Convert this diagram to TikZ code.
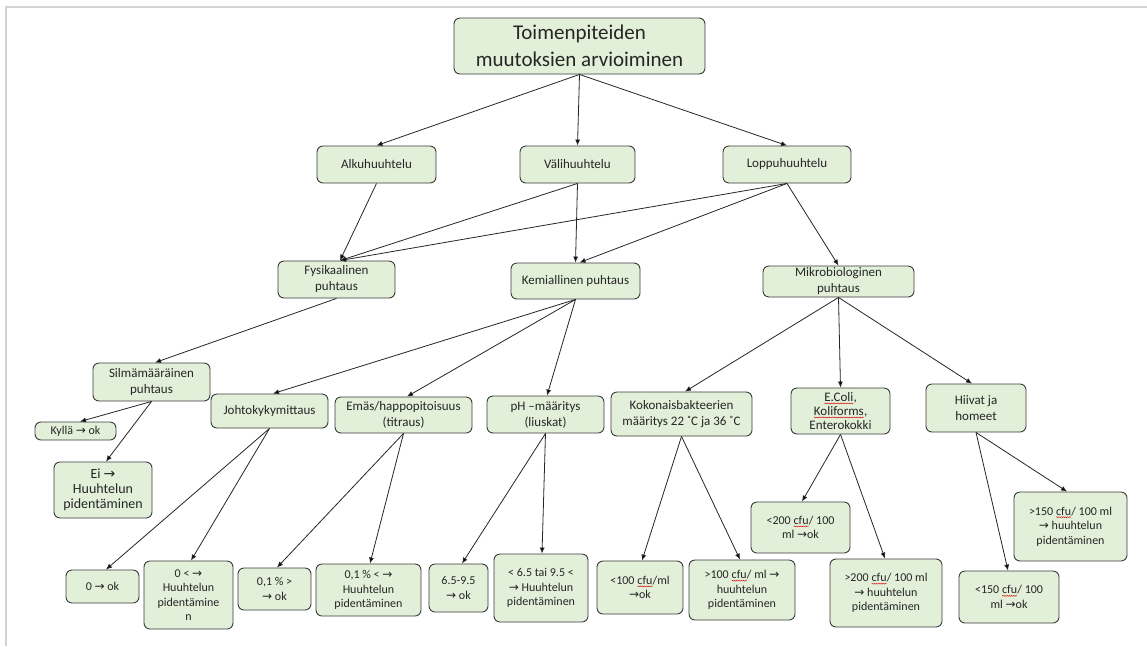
\documentclass[tikz,border=0pt]{standalone}
\usepackage{fontspec}
\setmainfont{Carlito}
\newfontfamily\arrfont{DejaVu Sans}
\usetikzlibrary{arrows.meta,decorations.pathmorphing}
\newcommand{\ra}{{\arrfont\fontsize{1em}{1em}\selectfont→}}
\newcommand{\sqw}[1]{\tikz[baseline=(sqt.base),x=1pt,y=1pt]{\node[inner sep=0pt,outer sep=0pt,minimum width=0pt,minimum height=0pt,draw=none,fill=none,rounded corners=0pt,text=black!85] (sqt) {#1};\draw[draw=red!85!black,fill=none,rounded corners=0pt,line width=0.4pt,decorate,decoration={snake,amplitude=0.5pt,segment length=2.2pt}] ([yshift=-2pt]sqt.base west) -- ([yshift=-2pt]sqt.base east);}}
\definecolor{boxfill}{HTML}{E2EFD9}
\definecolor{boxline}{HTML}{3A3A3A}
\definecolor{frameg}{HTML}{D4D4D4}
\tikzset{
  box/.style={draw=boxline, line width=0.9pt, fill=boxfill, rounded corners=6pt,
    align=center, inner sep=0pt, text=black!85},
  rootbox/.style={box, font=\fontsize{21}{27}\selectfont},
  midbox/.style={box, font=\fontsize{13}{16}\selectfont},
  leafbox/.style={box, font=\fontsize{12}{14.5}\selectfont},
  conn/.style={draw=black!85, line width=0.8pt, -{Latex[length=6pt,width=5pt]}},
}
\begin{document}
\begin{tikzpicture}[x=1pt,y=-1pt]
\useasboundingbox (0,0) rectangle (1147,646);
\fill[white] (0,0) rectangle (1147,646);
\draw[frameg, line width=1.5pt] (6,646) -- (6,7) -- (1147,7);

% level 0
\node[rootbox, minimum width=251, minimum height=56] (root) at (579.5,46) {Toimenpiteiden\\muutoksien arvioiminen};
% level 1
\node[midbox, minimum width=119, minimum height=37] (alku) at (376.5,164.5) {Alkuhuuhtelu};
\node[midbox, minimum width=115, minimum height=37] (vali) at (577.5,164.5) {Välihuuhtelu};
\node[midbox, minimum width=128, minimum height=37] (loppu) at (787,164.5) {Loppuhuuhtelu};
% level 2
\node[midbox, minimum width=117, minimum height=37] (fys) at (336.5,279.5) {Fysikaalinen\\puhtaus};
\node[midbox, minimum width=129, minimum height=36] (kemi) at (575.5,281) {Kemiallinen puhtaus};
\node[midbox, minimum width=151, minimum height=31] (mikro) at (838.5,281.5) {Mikrobiologinen\\puhtaus};
% level 3
\node[midbox, minimum width=117, minimum height=38] (silma) at (151.5,382) {Silmämääräinen\\puhtaus};
\node[midbox, minimum width=117, minimum height=34] (johto) at (269.5,411) {Johtokykymittaus};
\node[midbox, minimum width=137, minimum height=36] (emas) at (403.5,415) {Emäs/happopitoisuus\\(titraus)};
\node[midbox, minimum width=117, minimum height=37] (ph) at (545.5,414.5) {pH –määritys\\(liuskat)};
\node[midbox, minimum width=141, minimum height=44] (koko) at (681.5,414) {Kokonaisbakteerien\\määritys 22 ˚C ja 36 ˚C};
\node[midbox, minimum width=99, minimum height=46, font=\fontsize{13}{14}\selectfont] (ecoli) at (840.5,411) {\sqw{E.Coli},\\\sqw{Koliforms},\\Enterokokki};
\node[midbox, minimum width=100, minimum height=48] (hiivat) at (976,408) {Hiivat ja\\homeet};
% leaves
\node[leafbox, minimum width=81, minimum height=18] (kylla) at (75.5,431) {Kyllä \ra{} ok};
\node[leafbox, minimum width=98, minimum height=56, font=\fontsize{14}{15}\selectfont] (ei) at (103,490) {Ei \ra\\Huuhtelun\\pidentäminen};
\node[leafbox, minimum width=73, minimum height=33] (nolla) at (102.5,586.5) {0 \ra{} ok};
\node[leafbox, minimum width=89, minimum height=68] (nollap) at (188.5,595) {0 < \ra\\Huuhtelun\\pidentämine\\n};
\node[leafbox, minimum width=73, minimum height=42] (pr1) at (274.5,589) {0,1 \% >\\\ra{} ok};
\node[leafbox, minimum width=105, minimum height=52] (pr2) at (368.5,590) {0,1 \% < \ra\\Huuhtelun\\pidentäminen};
\node[leafbox, minimum width=59, minimum height=48] (ph1) at (458.5,588) {6.5-9.5\\\ra{} ok};
\node[leafbox, minimum width=94, minimum height=68] (ph2) at (541,588) {< 6.5 tai 9.5 <\\\ra{} Huuhtelun\\pidentäminen};
\node[leafbox, minimum width=86, minimum height=53] (k1) at (640,587.5) {<100 \sqw{cfu}/ml\\\ra ok};
\node[leafbox, minimum width=106, minimum height=60] (k2) at (742,590) {>100 \sqw{cfu}/ ml \ra\\huuhtelun\\pidentäminen};
\node[leafbox, minimum width=99, minimum height=51] (e1) at (800.5,527.5) {<200 \sqw{cfu}/ 100\\ml \ra ok};
\node[leafbox, minimum width=112, minimum height=68] (e2) at (886,593) {>200 \sqw{cfu}/ 100 ml\\\ra{} huuhtelun\\pidentäminen};
\node[leafbox, minimum width=100, minimum height=52] (h1) at (1009,597) {<150 \sqw{cfu}/ 100\\ml \ra ok};
\node[leafbox, minimum width=113, minimum height=69] (h2) at (1070.5,526.5) {>150 \sqw{cfu}/ 100 ml\\\ra{} huuhtelun\\pidentäminen};

% connectors
\draw[conn] (root.south) -- (alku.north);
\draw[conn] (root.south) -- (vali.north);
\draw[conn] (root.south) -- (loppu.north);
\draw[conn] (alku.south) -- ([xshift=3.5]fys.north);
\draw[conn] (vali.south) -- ([xshift=3.5]fys.north);
\draw[conn] (vali.south) -- (kemi.north);
\draw[conn] (loppu.south) -- ([xshift=3.5]fys.north);
\draw[conn] (loppu.south) -- ([xshift=4]kemi.north);
\draw[conn] (loppu.south) -- (mikro.north);
\draw[conn] (fys.south) -- ([xshift=3.5]silma.north);
\draw[conn] (kemi.south) -- ([xshift=3.5]johto.north);
\draw[conn] (kemi.south) -- ([xshift=3.5]emas.north);
\draw[conn] (kemi.south) -- ([xshift=1.5]ph.north);
\draw[conn] (mikro.south) -- ([xshift=3.5]koko.north);
\draw[conn] (mikro.south) -- (ecoli.north);
\draw[conn] (mikro.south) -- ([xshift=-4]hiivat.north);
\draw[conn] (silma.south) -- ([xshift=4.5]kylla.north);
\draw[conn] (silma.south) -- ([xshift=3]ei.north);
\draw[conn] (johto.south) -- ([xshift=3.5]nolla.north);
\draw[conn] (johto.south) -- ([xshift=2.5]nollap.north);
\draw[conn] (emas.south) -- ([xshift=2.5]pr1.north);
\draw[conn] (emas.south) -- ([xshift=1.5]pr2.north);
\draw[conn] (ph.south) -- ([xshift=3.5]ph1.north);
\draw[conn] (ph.south) -- ([xshift=1]ph2.north);
\draw[conn] (koko.south) -- ([xshift=2]k1.north);
\draw[conn] (koko.south) -- ([xshift=-2]k2.north);
\draw[conn] (ecoli.south) -- ([xshift=1.5]e1.north);
\draw[conn] (ecoli.south) -- ([xshift=-1]e2.north);
\draw[conn] (hiivat.south) -- ([xshift=-1]h1.north);
\draw[conn] (hiivat.south) -- ([xshift=-3.5]h2.north);
\end{tikzpicture}
\end{document}
